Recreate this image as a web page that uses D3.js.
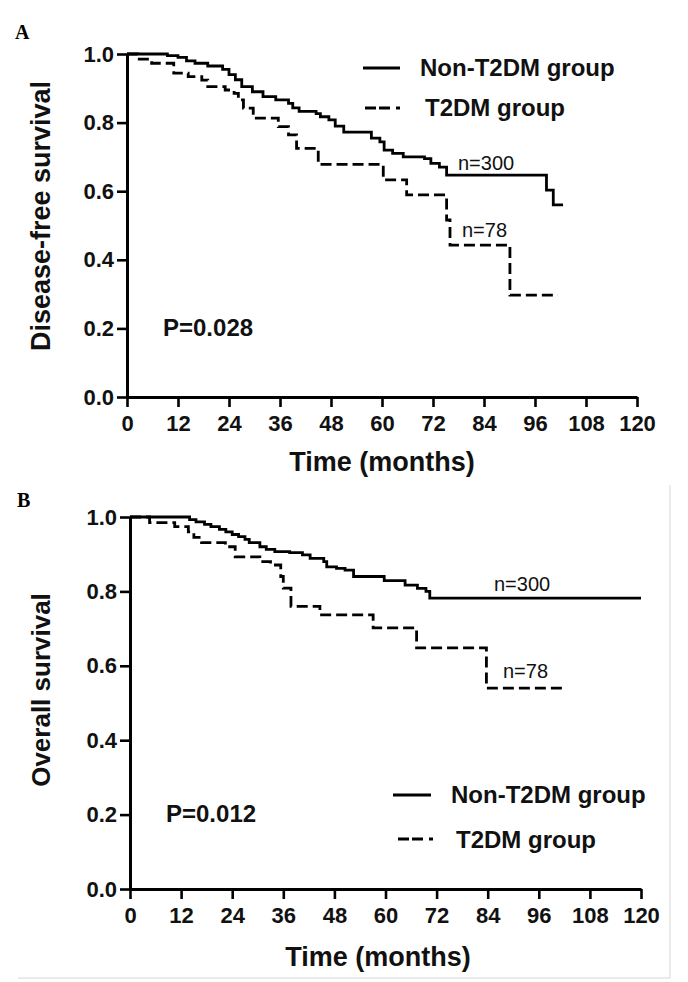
<!DOCTYPE html>
<html><head><meta charset="utf-8">
<script src="https://cdn.jsdelivr.net/npm/d3@7/dist/d3.min.js"></script>
<style>body{margin:0;background:#fff}</style>
</head><body>
<svg id="c" width="688" height="982"></svg>
<script>
// ---------- data ----------
const xTicks = [0, 12, 24, 36, 48, 60, 72, 84, 96, 108, 120];
const yTicks = [0, 0.2, 0.4, 0.6, 0.8, 1.0];
const groupNames = ["Non-T2DM group", "T2DM group"];
const groupN = ["n=300", "n=78"];

// Panel A: disease-free survival (step times in months, survival after step)
const dfsNonTime = [0, 9.5, 12, 14, 16, 19, 22.5, 24, 25.5, 27, 29.5, 32, 35, 38, 39, 40.5, 44.5, 45.5, 47.5, 49, 51, 57.5, 59.5, 60.5, 62.5, 65, 70, 71.5, 73.5, 75.2, 98.7, 100.3, 102.6];
const dfsNonSurv = [1, 0.995, 0.99, 0.98, 0.973, 0.965, 0.955, 0.94, 0.925, 0.905, 0.89, 0.876, 0.866, 0.856, 0.843, 0.833, 0.826, 0.817, 0.808, 0.79, 0.772, 0.755, 0.744, 0.72, 0.71, 0.70, 0.695, 0.681, 0.67, 0.647, 0.603, 0.56, 0.56];
const dfsT2Time = [0, 2.5, 5.8, 11, 14.4, 17.6, 19, 23.1, 25.2, 26.2, 27.4, 29.7, 35.6, 38, 39.9, 45, 60.3, 65.8, 75.2, 76, 90.1, 101.4];
const dfsT2Surv = [1, 0.985, 0.973, 0.944, 0.934, 0.924, 0.905, 0.895, 0.885, 0.866, 0.842, 0.813, 0.788, 0.764, 0.725, 0.678, 0.633, 0.589, 0.516, 0.443, 0.297, 0.297];

// Panel B: overall survival
const osNonTime = [0, 14, 15.5, 17.5, 19, 21, 22.5, 24, 25.5, 27, 28, 30.5, 32, 34, 37.5, 40.5, 42.3, 45.5, 46.2, 48.5, 50.5, 52.5, 59.7, 64.6, 67.5, 69.5, 70.4, 120];
const osNonSurv = [1, 0.993, 0.987, 0.98, 0.974, 0.967, 0.96, 0.953, 0.947, 0.94, 0.931, 0.92, 0.913, 0.907, 0.904, 0.898, 0.889, 0.88, 0.866, 0.862, 0.857, 0.84, 0.829, 0.817, 0.808, 0.80, 0.782, 0.782];
const osT2Time = [0, 4.6, 10.5, 13.7, 15, 16.8, 22.4, 24.7, 30.5, 33, 35.4, 36, 37.8, 44.6, 57.1, 67.3, 83.7, 101.5];
const osT2Surv = [1, 0.985, 0.974, 0.96, 0.945, 0.931, 0.92, 0.893, 0.88, 0.871, 0.84, 0.809, 0.76, 0.737, 0.702, 0.648, 0.54, 0.54];

const pValues = ["P=0.028", "P=0.012"];
const panelLetters = ["A", "B"];
const yTitles = ["Disease-free survival", "Overall survival"];
const xTitle = "Time (months)";

// ---------- layout ----------
const SANS = "'Liberation Sans', Arial, Helvetica, sans-serif";
const SERIF = "'Liberation Serif', 'Times New Roman', serif";
const svg = d3.select("#c");

const panels = [
  { x0: 127, x1: 637, yTop: 54, yBot: 397,
    non: [dfsNonTime, dfsNonSurv], t2: [dfsT2Time, dfsT2Surv],
    letter: panelLetters[0], letterPos: [15, 39],
    yTitle: yTitles[0], yTitlePos: [50, 216], yTitleSize: 27,
    xTitlePos: [382, 471], xTitleSize: 27,
    p: pValues[0], pPos: [163, 336],
    nNonPos: [458, 170], nT2Pos: [462, 237],
    leg: { solid: [363, 400, 68], text1: [420, 76], dash: [365, 403, 108], text2: [425, 116] } },
  { x0: 130, x1: 641, yTop: 517, yBot: 889,
    non: [osNonTime, osNonSurv], t2: [osT2Time, osT2Surv],
    letter: panelLetters[1], letterPos: [17, 507],
    yTitle: yTitles[1], yTitlePos: [50, 690], yTitleSize: 26,
    xTitlePos: [378, 966], xTitleSize: 27,
    p: pValues[1], pPos: [166, 822],
    nNonPos: [494, 591], nT2Pos: [503, 678],
    leg: { solid: [393, 431, 795], text1: [451, 803], dash: [398, 436, 839], text2: [456, 848] } }
];

// faint border of panel B image
svg.append("line").attr("x1", 670).attr("x2", 670).attr("y1", 485).attr("y2", 978)
  .attr("stroke", "#e4e4e4").attr("stroke-width", 1.5);
svg.append("line").attr("x1", 18).attr("x2", 670).attr("y1", 978).attr("y2", 978)
  .attr("stroke", "#e4e4e4").attr("stroke-width", 1.5);

panels.forEach(p => {
  const x = d3.scaleLinear().domain([0, 120]).range([p.x0, p.x1]);
  const y = d3.scaleLinear().domain([0, 1]).range([p.yBot, p.yTop]);
  const g = svg.append("g");

  // axes
  const ya = g.append("g").attr("transform", `translate(${p.x0},0)`)
    .call(d3.axisLeft(y).tickValues(yTicks).tickFormat(d3.format(".1f")).tickSize(10).tickSizeOuter(0).tickPadding(3));
  const xa = g.append("g").attr("transform", `translate(0,${p.yBot})`)
    .call(d3.axisBottom(x).tickValues(xTicks).tickFormat(d3.format("d")).tickSize(10).tickSizeOuter(0).tickPadding(8));
  [ya, xa].forEach(a => {
    a.select(".domain").attr("stroke", "#000").attr("stroke-width", 3);
    a.selectAll(".tick line").attr("stroke", "#000").attr("stroke-width", 2.6);
    a.selectAll(".tick text").attr("fill", "#111").style("font-family", SANS)
      .style("font-weight", "bold").style("font-size", "22px");
  });

  // curves
  const line = d3.line().curve(d3.curveStepAfter).x(d => x(d[0])).y(d => y(d[1]));
  const nonPts = d3.zip(p.non[0], p.non[1]);
  const t2Pts = d3.zip(p.t2[0], p.t2[1]);
  g.append("path").datum(t2Pts).attr("d", line).attr("fill", "none")
    .attr("stroke", "#000").attr("stroke-width", 2.8).attr("stroke-dasharray", "11,5");
  g.append("path").datum(nonPts).attr("d", line).attr("fill", "none")
    .attr("stroke", "#000").attr("stroke-width", 2.8);

  // n labels
  g.append("text").attr("x", p.nNonPos[0]).attr("y", p.nNonPos[1]).text(groupN[0])
    .style("font-family", SANS).style("font-size", "20px").attr("fill", "#111");
  g.append("text").attr("x", p.nT2Pos[0]).attr("y", p.nT2Pos[1]).text(groupN[1])
    .style("font-family", SANS).style("font-size", "20px").attr("fill", "#111");

  // p value
  g.append("text").attr("x", p.pPos[0]).attr("y", p.pPos[1]).text(p.p)
    .style("font-family", SANS).style("font-weight", "bold").style("font-size", "24px").attr("fill", "#111");

  // legend
  const L = p.leg;
  g.append("line").attr("x1", L.solid[0]).attr("x2", L.solid[1]).attr("y1", L.solid[2]).attr("y2", L.solid[2])
    .attr("stroke", "#000").attr("stroke-width", 3);
  g.append("text").attr("x", L.text1[0]).attr("y", L.text1[1]).text(groupNames[0])
    .style("font-family", SANS).style("font-weight", "bold").style("font-size", "24px").attr("fill", "#111");
  g.append("line").attr("x1", L.dash[0]).attr("x2", L.dash[1]).attr("y1", L.dash[2]).attr("y2", L.dash[2])
    .attr("stroke", "#000").attr("stroke-width", 3).attr("stroke-dasharray", "11,3,11,6,4,20");
  g.append("text").attr("x", L.text2[0]).attr("y", L.text2[1]).text(groupNames[1])
    .style("font-family", SANS).style("font-weight", "bold").style("font-size", "24px").attr("fill", "#111");

  // titles
  g.append("text").attr("transform", `translate(${p.yTitlePos[0]},${p.yTitlePos[1]}) rotate(-90)`)
    .attr("text-anchor", "middle").text(p.yTitle)
    .style("font-family", SANS).style("font-weight", "bold").style("font-size", p.yTitleSize + "px").attr("fill", "#111");
  g.append("text").attr("x", p.xTitlePos[0]).attr("y", p.xTitlePos[1]).attr("text-anchor", "middle").text(xTitle)
    .style("font-family", SANS).style("font-weight", "bold").style("font-size", p.xTitleSize + "px").attr("fill", "#111");
  g.append("text").attr("x", p.letterPos[0]).attr("y", p.letterPos[1]).text(p.letter)
    .style("font-family", SERIF).style("font-weight", "bold").style("font-size", "20px").attr("fill", "#000");
});
</script>
</body></html>
